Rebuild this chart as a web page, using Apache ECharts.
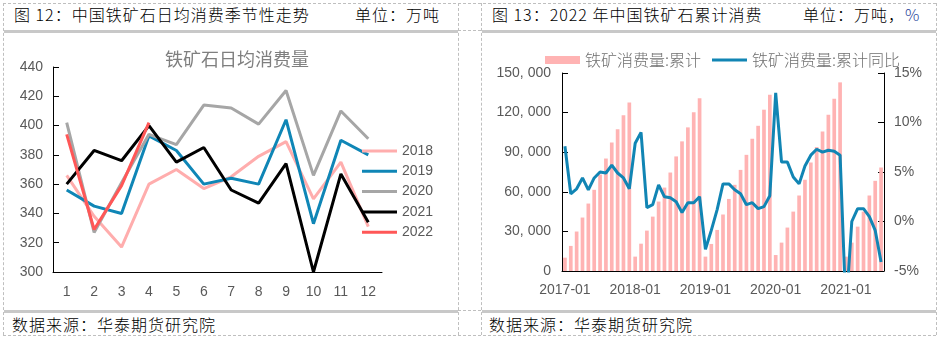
<!DOCTYPE html>
<html>
<head>
<meta charset="utf-8">
<script src="https://cdn.jsdelivr.net/npm/echarts@6/dist/echarts.min.js"></script>
<style>
html, body { margin: 0; padding: 0; background: #fff; }
#page { position: relative; width: 941px; height: 340px; overflow: hidden; font-family: "Noto Sans CJK SC", sans-serif; }
.dh { position: absolute; height: 0; border-top: 1px dashed #bfbfbf; }
.dv { position: absolute; width: 0; border-left: 1px dashed #bfbfbf; }
.gb { position: absolute; height: 3px; background: #c8c8c8; }
.hd { position: absolute; font-size: 16px; font-weight: 300; letter-spacing: 1px; color: #000; line-height: 20px; white-space: nowrap; }
#chart { position: absolute; left: 0; top: 0; width: 941px; height: 340px; }
</style>
</head>
<body>
<div id="page">
  <!-- panel frames -->
  <div class="dh" style="left:3px;top:3px;width:933px"></div>
  <div class="dh" style="left:3px;top:335px;width:933px"></div>
  <div class="dv" style="left:3px;top:3px;height:332px"></div>
  <div class="dv" style="left:936px;top:3px;height:332px"></div>
  <div class="dv" style="left:458px;top:3px;height:332px"></div>
  <div class="dv" style="left:481px;top:3px;height:332px"></div>
  <div class="dh" style="left:458px;top:30px;width:23px"></div>
  <div class="dh" style="left:458px;top:310px;width:23px"></div>
  <div class="gb" style="left:4px;top:30px;width:454px"></div>
  <div class="gb" style="left:482px;top:30px;width:454px"></div>
  <div class="gb" style="left:4px;top:310px;width:454px"></div>
  <div class="gb" style="left:482px;top:310px;width:454px"></div>

  <div class="hd" style="left:14px;top:4px">图 12：中国铁矿石日均消费季节性走势</div>
  <div class="hd" style="left:355px;top:4px">单位：万吨</div>
  <div class="hd" style="left:492px;top:4px">图 13：2022 年中国铁矿石累计消费</div>
  <div class="hd" style="left:803px;top:4px">单位：万吨，<span style="color:#1f3f9a">%</span></div>
  <div class="hd" style="left:12px;top:314px">数据来源：华泰期货研究院</div>
  <div class="hd" style="left:489px;top:314px">数据来源：华泰期货研究院</div>

  <div id="chart"></div>
</div>
<script>
// ---- Figure 12: daily average consumption by month, one line per year ----
const months = ['1', '2', '3', '4', '5', '6', '7', '8', '9', '10', '11', '12'];
const years = ['2018', '2019', '2020', '2021', '2022'];
const daily2018 = [366, 338, 317, 360, 370, 357, 365, 379, 389, 350, 375, 331];
const daily2019 = [356, 345, 340, 393, 383, 360, 364, 360, 404, 333, 390, 380];
const daily2020 = [402, 327, 361, 394, 387, 414, 412, 401, 424, 366, 410, 391];
const daily2021 = [360, 383, 376, 400, 375, 385, 356, 347, 374, 300, 367, 334];
const daily2022 = [394, 329, 359, 402];
const yearColors = ['#ffadad', '#0f86b6', '#a6a6a6', '#000000', '#ff5757'];

// ---- Figure 13: cumulative consumption and cumulative YoY ----
const cumMonths = [
  '2017-01','2017-02','2017-03','2017-04','2017-05','2017-06','2017-07','2017-08','2017-09','2017-10','2017-11','2017-12',
  '2018-01','2018-02','2018-03','2018-04','2018-05','2018-06','2018-07','2018-08','2018-09','2018-10','2018-11','2018-12',
  '2019-01','2019-02','2019-03','2019-04','2019-05','2019-06','2019-07','2019-08','2019-09','2019-10','2019-11','2019-12',
  '2020-01','2020-02','2020-03','2020-04','2020-05','2020-06','2020-07','2020-08','2020-09','2020-10','2020-11','2020-12',
  '2021-01','2021-02','2021-03','2021-04','2021-05','2021-06','2021-07'
];
const cumTotal = [
  10100, 19000, 29900, 40500, 51100, 61500, 73100, 85200, 97400, 107300, 117900, 127700,
  10900, 20700, 30600, 41200, 52600, 63200, 74600, 86800, 98200, 108800, 120200, 130800,
  10900, 20500, 31100, 42800, 54600, 65300, 76600, 88000, 100200, 110000, 122200, 133600,
  12100, 21500, 32900, 45000, 57200, 69100, 82200, 93900, 105700, 118400, 130500, 142900,
  10900, 21500, 33600, 45000, 57200, 68300, 78400
];
const cumYoY = [
  7.6, 2.8, 3.3, 4.4, 3.2, 4.4, 5.0, 4.9, 5.7, 4.9, 4.4, 3.3,
  7.9, 9.0, 1.4, 1.7, 3.7, 2.5, 2.4, 2.0, 0.9, 1.9, 1.9, 2.5,
  -2.8, -0.9, 1.2, 3.8, 3.8, 3.2, 2.8, 1.7, 1.9, 1.3, 1.5, 2.6,
  13.0, 6.0, 6.0, 4.5, 3.8, 5.6, 6.7, 7.3, 7.0, 7.2, 7.1, 6.7,
  -9.0, 0.0, 1.3, 1.3, 0.5, -0.9, -4.1
];
const nameTotal = '铁矿消费量:累计';
const nameYoY = '铁矿消费量:累计同比';

const axisFont = 'Liberation Sans, Arial, sans-serif';
const labelColor = '#595959';
const lineIcon = 'path://M0,0 L35,0 L35,3 L0,3 Z';

function thousands(v) {
  const s = String(Math.round(v));
  return s.replace(/\B(?=(\d{3})+(?!\d))/g, ', ');
}

const dailySeries = [daily2018, daily2019, daily2020, daily2021, daily2022].map((d, i) => ({
  name: years[i],
  type: 'line',
  xAxisIndex: 0,
  yAxisIndex: 0,
  data: d,
  symbol: 'none',
  lineStyle: { width: 3, color: yearColors[i] },
  itemStyle: { color: yearColors[i] },
  z: 2 + i
}));

const chart = echarts.init(document.getElementById('chart'), null, { renderer: 'canvas' });
chart.setOption({
  animation: false,
  textStyle: { fontFamily: axisFont },
  title: {
    text: '铁矿石日均消费量',
    left: 160,
    top: 45,
    textStyle: { fontFamily: '"Noto Sans CJK SC", sans-serif', fontSize: 18, fontWeight: 'normal', color: '#7f7f7f' }
  },
  legend: [
    {
      data: years.map(y => ({ name: y, icon: lineIcon })),
      orient: 'vertical',
      left: 357,
      top: 138,
      itemWidth: 35,
      itemHeight: 16,
      itemGap: 4.3,
      textStyle: { fontFamily: axisFont, fontSize: 14, color: labelColor, lineHeight: 16 }
    },
    {
      data: [{ name: nameTotal, icon: 'rect' }, { name: nameYoY, icon: lineIcon }],
      orient: 'horizontal',
      left: 540,
      top: 47,
      itemWidth: 35,
      itemHeight: 8,
      itemGap: 11,
      textStyle: { fontFamily: '"Noto Sans CJK SC", sans-serif', fontSize: 16, fontWeight: 300, color: '#707070' }
    }
  ],
  grid: [
    { left: 53, top: 67, width: 329, height: 205 },
    { left: 562, top: 73, width: 322, height: 198 }
  ],
  xAxis: [
    {
      type: 'category',
      gridIndex: 0,
      data: months,
      boundaryGap: true,
      axisLine: { lineStyle: { color: '#000', width: 1 } },
      axisTick: { inside: true, length: 6, lineStyle: { color: '#000' } },
      axisLabel: { color: labelColor, fontSize: 14, margin: 13 },
      splitLine: { show: false }
    },
    {
      type: 'category',
      gridIndex: 1,
      data: cumMonths,
      boundaryGap: true,
      axisLine: { lineStyle: { color: '#000', width: 1 } },
      axisTick: { inside: true, length: 6, interval: 5, lineStyle: { color: '#000' } },
      axisLabel: { color: labelColor, fontSize: 14, margin: 12, interval: 11 },
      splitLine: { show: false }
    }
  ],
  yAxis: [
    {
      type: 'value',
      gridIndex: 0,
      min: 300,
      max: 440,
      interval: 20,
      axisLine: { show: true, lineStyle: { color: '#000', width: 1 } },
      axisTick: { show: true, inside: true, length: 6, lineStyle: { color: '#000' } },
      axisLabel: { color: labelColor, fontSize: 14, margin: 10 },
      splitLine: { show: false }
    },
    {
      type: 'value',
      gridIndex: 1,
      min: 0,
      max: 150000,
      interval: 30000,
      axisLine: { show: true, lineStyle: { color: '#000', width: 1 } },
      axisTick: { show: true, inside: true, length: 6, lineStyle: { color: '#000' } },
      axisLabel: { color: labelColor, fontSize: 14, margin: 11, formatter: thousands },
      splitLine: { show: false }
    },
    {
      type: 'value',
      gridIndex: 1,
      position: 'right',
      min: -5,
      max: 15,
      interval: 5,
      axisLine: { show: true, lineStyle: { color: '#000', width: 1 } },
      axisTick: { show: true, inside: true, length: 6, lineStyle: { color: '#000' } },
      axisLabel: { color: labelColor, fontSize: 14, margin: 10, formatter: '{value}%' },
      splitLine: { show: false }
    }
  ],
  series: dailySeries.concat([
    {
      name: nameTotal,
      type: 'bar',
      xAxisIndex: 1,
      yAxisIndex: 1,
      data: cumTotal,
      barWidth: '63%',
      itemStyle: { color: '#ffb3b3' },
      z: 2
    },
    {
      name: nameYoY,
      type: 'line',
      xAxisIndex: 1,
      yAxisIndex: 2,
      data: cumYoY,
      symbol: 'none',
      clip: true,
      lineStyle: { width: 3, color: '#1185b4' },
      itemStyle: { color: '#1185b4' },
      z: 3
    }
  ])
});
</script>
</body>
</html>
